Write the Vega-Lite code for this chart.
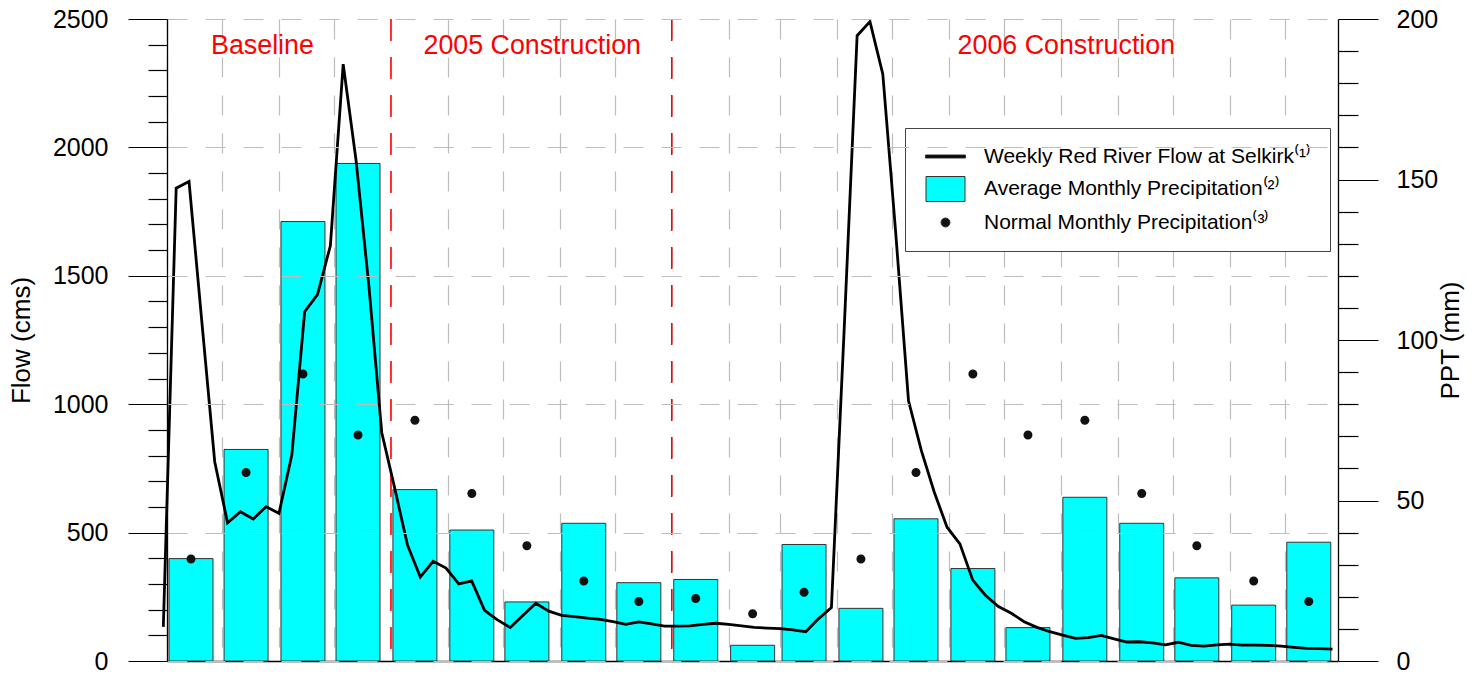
{
  "$schema": "https://vega.github.io/schema/vega-lite/v6.json",
  "width": 1171,
  "height": 642,
  "autosize": {"type": "none"},
  "padding": {"left": 167, "top": 19, "right": 140, "bottom": 16},
  "background": "white",
  "config": {
    "font": "Liberation Sans",
    "view": {"stroke": null},
    "axis": {"labelFont": "Liberation Sans", "titleFont": "Liberation Sans", "labelColor": "#000", "titleColor": "#000", "titleFontWeight": "normal"}
  },
  "datasets": {
    "monthly": [
      {"month": "2005-04-01", "avg": 31.9, "normal": 31.8},
      {"month": "2005-05-01", "avg": 65.9, "normal": 58.7},
      {"month": "2005-06-01", "avg": 136.9, "normal": 89.4},
      {"month": "2005-07-01", "avg": 155.0, "normal": 70.4},
      {"month": "2005-08-01", "avg": 53.4, "normal": 75.0},
      {"month": "2005-09-01", "avg": 40.8, "normal": 52.2},
      {"month": "2005-10-01", "avg": 18.4, "normal": 35.9},
      {"month": "2005-11-01", "avg": 42.9, "normal": 24.9},
      {"month": "2005-12-01", "avg": 24.4, "normal": 18.5},
      {"month": "2006-01-01", "avg": 25.4, "normal": 19.5},
      {"month": "2006-02-01", "avg": 4.9, "normal": 14.7},
      {"month": "2006-03-01", "avg": 36.3, "normal": 21.4},
      {"month": "2006-04-01", "avg": 16.4, "normal": 31.8},
      {"month": "2006-05-01", "avg": 44.3, "normal": 58.7},
      {"month": "2006-06-01", "avg": 28.8, "normal": 89.4},
      {"month": "2006-07-01", "avg": 10.4, "normal": 70.4},
      {"month": "2006-08-01", "avg": 51.0, "normal": 75.0},
      {"month": "2006-09-01", "avg": 42.9, "normal": 52.2},
      {"month": "2006-10-01", "avg": 25.9, "normal": 35.9},
      {"month": "2006-11-01", "avg": 17.4, "normal": 24.9},
      {"month": "2006-12-01", "avg": 37.0, "normal": 18.5}
    ],
    "weekly": [
      {"date": "2005-03-30", "flow": 133},
      {"date": "2005-04-06", "flow": 1841},
      {"date": "2005-04-13", "flow": 1867},
      {"date": "2005-04-20", "flow": 1320},
      {"date": "2005-04-27", "flow": 776},
      {"date": "2005-05-04", "flow": 538},
      {"date": "2005-05-11", "flow": 581},
      {"date": "2005-05-18", "flow": 553},
      {"date": "2005-05-25", "flow": 601},
      {"date": "2005-06-01", "flow": 575},
      {"date": "2005-06-08", "flow": 802},
      {"date": "2005-06-15", "flow": 1360},
      {"date": "2005-06-22", "flow": 1427},
      {"date": "2005-06-29", "flow": 1617},
      {"date": "2005-07-06", "flow": 2324},
      {"date": "2005-07-13", "flow": 1950},
      {"date": "2005-07-20", "flow": 1460},
      {"date": "2005-07-27", "flow": 890},
      {"date": "2005-08-03", "flow": 675},
      {"date": "2005-08-10", "flow": 452},
      {"date": "2005-08-17", "flow": 327},
      {"date": "2005-08-24", "flow": 388},
      {"date": "2005-08-31", "flow": 362},
      {"date": "2005-09-07", "flow": 300},
      {"date": "2005-09-14", "flow": 312},
      {"date": "2005-09-21", "flow": 197},
      {"date": "2005-09-28", "flow": 160},
      {"date": "2005-10-05", "flow": 130},
      {"date": "2005-10-12", "flow": 178},
      {"date": "2005-10-19", "flow": 225},
      {"date": "2005-10-26", "flow": 194},
      {"date": "2005-11-02", "flow": 178},
      {"date": "2005-11-09", "flow": 173},
      {"date": "2005-11-16", "flow": 167},
      {"date": "2005-11-23", "flow": 162},
      {"date": "2005-11-30", "flow": 153},
      {"date": "2005-12-07", "flow": 143},
      {"date": "2005-12-14", "flow": 152},
      {"date": "2005-12-21", "flow": 145},
      {"date": "2005-12-28", "flow": 136},
      {"date": "2006-01-04", "flow": 136},
      {"date": "2006-01-11", "flow": 137},
      {"date": "2006-01-18", "flow": 143},
      {"date": "2006-01-25", "flow": 147},
      {"date": "2006-02-01", "flow": 143},
      {"date": "2006-02-08", "flow": 137},
      {"date": "2006-02-15", "flow": 131},
      {"date": "2006-02-22", "flow": 128},
      {"date": "2006-03-01", "flow": 126},
      {"date": "2006-03-08", "flow": 121},
      {"date": "2006-03-15", "flow": 114},
      {"date": "2006-03-22", "flow": 165},
      {"date": "2006-03-29", "flow": 208},
      {"date": "2006-04-05", "flow": 1300},
      {"date": "2006-04-12", "flow": 2435},
      {"date": "2006-04-19", "flow": 2490},
      {"date": "2006-04-26", "flow": 2285},
      {"date": "2006-05-03", "flow": 1670},
      {"date": "2006-05-10", "flow": 1013},
      {"date": "2006-05-17", "flow": 819},
      {"date": "2006-05-24", "flow": 658},
      {"date": "2006-05-31", "flow": 521},
      {"date": "2006-06-07", "flow": 456},
      {"date": "2006-06-14", "flow": 315},
      {"date": "2006-06-21", "flow": 255},
      {"date": "2006-06-28", "flow": 212},
      {"date": "2006-07-05", "flow": 186},
      {"date": "2006-07-12", "flow": 153},
      {"date": "2006-07-19", "flow": 131},
      {"date": "2006-07-26", "flow": 114},
      {"date": "2006-08-02", "flow": 101},
      {"date": "2006-08-09", "flow": 88},
      {"date": "2006-08-16", "flow": 91},
      {"date": "2006-08-23", "flow": 100},
      {"date": "2006-08-30", "flow": 86},
      {"date": "2006-09-06", "flow": 74},
      {"date": "2006-09-13", "flow": 75},
      {"date": "2006-09-20", "flow": 71},
      {"date": "2006-09-27", "flow": 63},
      {"date": "2006-10-04", "flow": 73},
      {"date": "2006-10-11", "flow": 61},
      {"date": "2006-10-18", "flow": 58},
      {"date": "2006-10-25", "flow": 63},
      {"date": "2006-11-01", "flow": 66},
      {"date": "2006-11-08", "flow": 62},
      {"date": "2006-11-15", "flow": 62},
      {"date": "2006-11-22", "flow": 61},
      {"date": "2006-11-29", "flow": 58},
      {"date": "2006-12-06", "flow": 53},
      {"date": "2006-12-13", "flow": 49},
      {"date": "2006-12-20", "flow": 48},
      {"date": "2006-12-27", "flow": 46}
    ],
    "phases": [
      {"label": "Baseline", "date": "2005-05-23"},
      {"label": "2005 Construction", "date": "2005-10-17"},
      {"label": "2006 Construction", "date": "2006-08-04"}
    ],
    "bounds": [
      {"date": "2005-08-01"},
      {"date": "2006-01-01"}
    ]
  },
  "layer": [
    {
      "data": {"name": "monthly"},
      "layer": [
        {
          "mark": {"type": "bar", "width": 44, "xOffset": 24, "color": "#00FFFF", "stroke": "#333333", "strokeWidth": 1},
          "encoding": {
            "x": {
              "field": "month", "type": "temporal",
              "scale": {"type": "utc", "padding": 0, "domain": [{"year": 2005, "month": 4, "date": 1, "utc": true}, {"year": 2006, "month": 12, "date": 30, "utc": true}]},
              "axis": {"title": null, "labels": false, "ticks": false, "domain": true, "domainColor": "#000", "domainWidth": 1.3, "grid": true, "gridColor": "#bdbdbd", "gridDash": [20, 18], "gridWidth": 1.2, "tickCount": {"interval": "month", "step": 1}}
            },
            "y": {
              "field": "avg", "type": "quantitative",
              "scale": {"domain": [0, 200], "nice": false},
              "axis": {
                "orient": "right", "title": "PPT (mm)", "titleFontSize": 26, "titleAngle": 270, "titleBaseline": "top", "titlePadding": 0,
                "values": [0, 10, 20, 30, 40, 50, 60, 70, 80, 90, 100, 110, 120, 130, 140, 150, 160, 170, 180, 190, 200],
                "tickCount": 100,
                "format": "d",
                "tickSize": {"condition": {"test": "datum.value % 50 === 0", "value": 40}, "value": 20},
                "tickColor": "#000", "tickWidth": 1.2,
                "labelExpr": "datum.value % 50 === 0 ? datum.label : ''",
                "labelFontSize": 25, "labelPadding": 18, "labelOverlap": false,
                "domainColor": "#000", "domainWidth": 1.3, "grid": false
              }
            }
          }
        },
        {
          "mark": {"type": "point", "filled": true, "size": 100, "opacity": 1, "xOffset": 12},
          "encoding": {
            "x": {"field": "month", "type": "temporal", "title": null},
            "y": {"field": "normal", "type": "quantitative", "title": "PPT (mm)"},
            "color": {
              "datum": "Normal Monthly Precipitation⁽³⁾", "type": "nominal",
              "scale": {"domain": ["Weekly Red River Flow at Selkirk⁽¹⁾", "Average  Monthly Precipitation⁽²⁾", "Normal Monthly Precipitation⁽³⁾"], "range": ["#000000", "#00FFFF", "#111111"]},
              "legend": {
                "title": null, "orient": "none", "legendX": 738, "legendY": 109,
                "padding": 18, "fillColor": "white", "strokeColor": "#444444",
                "labelFont": "Liberation Sans", "labelFontSize": 21, "labelColor": "#000", "labelLimit": 0,
                "symbolSize": 100, "symbolOpacity": 1, "symbolStrokeColor": "#333333", "symbolStrokeWidth": 1,
                "labelOffset": 40, "rowPadding": 7.5,
                "encode": {"symbols": {"update": {"stroke": {"value": "#333333"}, "strokeWidth": {"value": 1}}}}
              }
            },
            "shape": {
              "datum": "Normal Monthly Precipitation⁽³⁾", "type": "nominal",
              "scale": {"domain": ["Weekly Red River Flow at Selkirk⁽¹⁾", "Average  Monthly Precipitation⁽²⁾", "Normal Monthly Precipitation⁽³⁾"], "range": ["M-1.6,-0.3H6.4V0.3H-1.6Z", "M-1.5,-2.5H6.3V2.5H-1.5Z", "M1.5,0A0.9,0.9,0,1,1,3.3,0A0.9,0.9,0,1,1,1.5,0Z"]},
              "legend": {
                "title": null, "orient": "none", "legendX": 738, "legendY": 109,
                "padding": 18, "fillColor": "white", "strokeColor": "#444444",
                "labelFont": "Liberation Sans", "labelFontSize": 21, "labelColor": "#000", "labelLimit": 0,
                "symbolSize": 100, "symbolOpacity": 1, "symbolStrokeColor": "#333333", "symbolStrokeWidth": 1,
                "labelOffset": 40, "rowPadding": 7.5,
                "encode": {"symbols": {"update": {"stroke": {"value": "#333333"}, "strokeWidth": {"value": 1}}}}
              }
            }
          }
        }
      ]
    },
    {
      "data": {"name": "bounds"},
      "mark": {"type": "rule", "color": "#FF0000", "strokeWidth": 1.5, "strokeDash": [22, 16]},
      "encoding": {"x": {"field": "date", "type": "temporal", "title": null}}
    },
    {
      "layer": [
        {
          "data": {"name": "weekly"},
          "mark": {"type": "line", "strokeWidth": 2.8, "color": "#000000"},
          "encoding": {
            "x": {"field": "date", "type": "temporal", "title": null},
            "y": {
              "field": "flow", "type": "quantitative",
              "scale": {"domain": [0, 2500], "nice": false},
              "axis": {
                "orient": "left", "title": "Flow (cms)", "titleFontSize": 26, "titlePadding": 18,
                "values": [0, 100, 200, 300, 400, 500, 600, 700, 800, 900, 1000, 1100, 1200, 1300, 1400, 1500, 1600, 1700, 1800, 1900, 2000, 2100, 2200, 2300, 2400, 2500],
                "tickCount": 100,
                "format": "d",
                "tickSize": {"condition": {"test": "datum.value % 500 === 0", "value": 39}, "value": 19},
                "tickColor": "#000", "tickWidth": 1.2,
                "labelExpr": "datum.value % 500 === 0 ? datum.label : ''",
                "labelFontSize": 25, "labelPadding": 20, "labelOverlap": false,
                "domainColor": "#000", "domainWidth": 1.3,
                "grid": true, "gridColor": "#bdbdbd", "gridDash": [20, 18], "gridWidth": 1.2,
                "gridOpacity": {"condition": {"test": "datum.value % 500 === 0", "value": 1}, "value": 0},
                "zindex": 1
              }
            }
          }
        },
        {
          "data": {"name": "phases"},
          "mark": {"type": "text", "color": "#FF0000", "fontSize": 26.8, "align": "center", "baseline": "alphabetic", "font": "Liberation Sans"},
          "encoding": {
            "x": {"field": "date", "type": "temporal", "title": null},
            "y": {"datum": 2365, "type": "quantitative"},
            "text": {"field": "label"}
          }
        }
      ]
    }
  ],
  "resolve": {"scale": {"y": "independent"}}
}
